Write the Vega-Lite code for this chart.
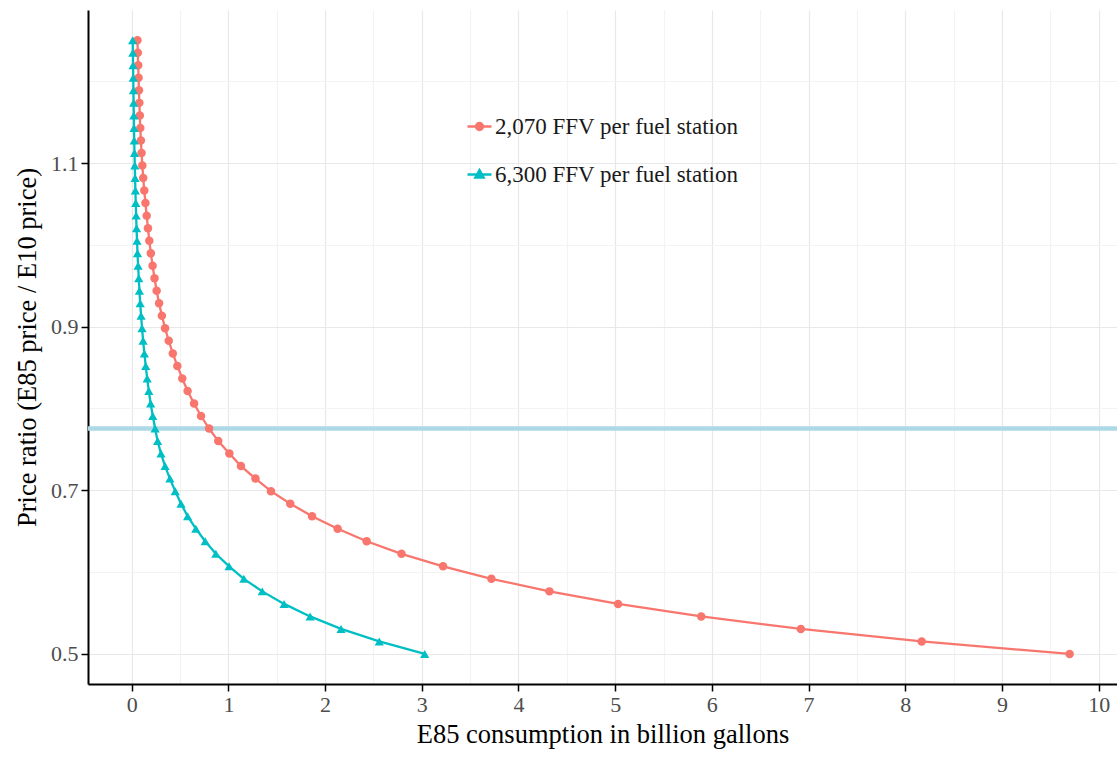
{
  "$schema": "https://vega.github.io/schema/vega-lite/v6.json",
  "width": 1029,
  "height": 674,
  "autosize": {"type": "none"},
  "padding": {"left": 88, "top": 10, "right": 0, "bottom": 73},
  "background": "white",
  "config": {"view": {"stroke": null}, "font": "Liberation Serif"},
  "datasets": {
    "ref": [{"p": 0.7755}],
    "curves": [
      {"s": "2,070 FFV per fuel station", "q": 9.70, "p": 0.5},
      {"s": "2,070 FFV per fuel station", "q": 8.17, "p": 0.5153},
      {"s": "2,070 FFV per fuel station", "q": 6.92, "p": 0.5306},
      {"s": "2,070 FFV per fuel station", "q": 5.89, "p": 0.5459},
      {"s": "2,070 FFV per fuel station", "q": 5.03, "p": 0.5612},
      {"s": "2,070 FFV per fuel station", "q": 4.32, "p": 0.5765},
      {"s": "2,070 FFV per fuel station", "q": 3.72, "p": 0.5918},
      {"s": "2,070 FFV per fuel station", "q": 3.22, "p": 0.6071},
      {"s": "2,070 FFV per fuel station", "q": 2.79, "p": 0.6224},
      {"s": "2,070 FFV per fuel station", "q": 2.43, "p": 0.6378},
      {"s": "2,070 FFV per fuel station", "q": 2.13, "p": 0.6531},
      {"s": "2,070 FFV per fuel station", "q": 1.865, "p": 0.6684},
      {"s": "2,070 FFV per fuel station", "q": 1.64, "p": 0.6837},
      {"s": "2,070 FFV per fuel station", "q": 1.44, "p": 0.6990},
      {"s": "2,070 FFV per fuel station", "q": 1.28, "p": 0.7143},
      {"s": "2,070 FFV per fuel station", "q": 1.13, "p": 0.7296},
      {"s": "2,070 FFV per fuel station", "q": 1.01, "p": 0.7449},
      {"s": "2,070 FFV per fuel station", "q": 0.895, "p": 0.7602},
      {"s": "2,070 FFV per fuel station", "q": 0.80, "p": 0.7755},
      {"s": "2,070 FFV per fuel station", "q": 0.717, "p": 0.7908},
      {"s": "2,070 FFV per fuel station", "q": 0.645, "p": 0.8061},
      {"s": "2,070 FFV per fuel station", "q": 0.578, "p": 0.8214},
      {"s": "2,070 FFV per fuel station", "q": 0.523, "p": 0.8367},
      {"s": "2,070 FFV per fuel station", "q": 0.472, "p": 0.8520},
      {"s": "2,070 FFV per fuel station", "q": 0.425, "p": 0.8673},
      {"s": "2,070 FFV per fuel station", "q": 0.383, "p": 0.8827},
      {"s": "2,070 FFV per fuel station", "q": 0.345, "p": 0.8980},
      {"s": "2,070 FFV per fuel station", "q": 0.312, "p": 0.9133},
      {"s": "2,070 FFV per fuel station", "q": 0.283, "p": 0.9286},
      {"s": "2,070 FFV per fuel station", "q": 0.258, "p": 0.9439},
      {"s": "2,070 FFV per fuel station", "q": 0.236, "p": 0.9592},
      {"s": "2,070 FFV per fuel station", "q": 0.216, "p": 0.9745},
      {"s": "2,070 FFV per fuel station", "q": 0.198, "p": 0.9898},
      {"s": "2,070 FFV per fuel station", "q": 0.182, "p": 1.0051},
      {"s": "2,070 FFV per fuel station", "q": 0.168, "p": 1.0204},
      {"s": "2,070 FFV per fuel station", "q": 0.155, "p": 1.0357},
      {"s": "2,070 FFV per fuel station", "q": 0.142, "p": 1.0510},
      {"s": "2,070 FFV per fuel station", "q": 0.130, "p": 1.0663},
      {"s": "2,070 FFV per fuel station", "q": 0.119, "p": 1.0816},
      {"s": "2,070 FFV per fuel station", "q": 0.110, "p": 1.0969},
      {"s": "2,070 FFV per fuel station", "q": 0.102, "p": 1.1122},
      {"s": "2,070 FFV per fuel station", "q": 0.095, "p": 1.1276},
      {"s": "2,070 FFV per fuel station", "q": 0.089, "p": 1.1429},
      {"s": "2,070 FFV per fuel station", "q": 0.084, "p": 1.1582},
      {"s": "2,070 FFV per fuel station", "q": 0.079, "p": 1.1735},
      {"s": "2,070 FFV per fuel station", "q": 0.075, "p": 1.1888},
      {"s": "2,070 FFV per fuel station", "q": 0.071, "p": 1.2041},
      {"s": "2,070 FFV per fuel station", "q": 0.067, "p": 1.2194},
      {"s": "2,070 FFV per fuel station", "q": 0.063, "p": 1.2347},
      {"s": "2,070 FFV per fuel station", "q": 0.059, "p": 1.25},
      {"s": "6,300 FFV per fuel station", "q": 3.03, "p": 0.5},
      {"s": "6,300 FFV per fuel station", "q": 2.56, "p": 0.5153},
      {"s": "6,300 FFV per fuel station", "q": 2.165, "p": 0.5306},
      {"s": "6,300 FFV per fuel station", "q": 1.845, "p": 0.5459},
      {"s": "6,300 FFV per fuel station", "q": 1.576, "p": 0.5612},
      {"s": "6,300 FFV per fuel station", "q": 1.35, "p": 0.5765},
      {"s": "6,300 FFV per fuel station", "q": 1.16, "p": 0.5918},
      {"s": "6,300 FFV per fuel station", "q": 1.007, "p": 0.6071},
      {"s": "6,300 FFV per fuel station", "q": 0.87, "p": 0.6224},
      {"s": "6,300 FFV per fuel station", "q": 0.76, "p": 0.6378},
      {"s": "6,300 FFV per fuel station", "q": 0.663, "p": 0.6531},
      {"s": "6,300 FFV per fuel station", "q": 0.578, "p": 0.6684},
      {"s": "6,300 FFV per fuel station", "q": 0.51, "p": 0.6837},
      {"s": "6,300 FFV per fuel station", "q": 0.45, "p": 0.6990},
      {"s": "6,300 FFV per fuel station", "q": 0.395, "p": 0.7143},
      {"s": "6,300 FFV per fuel station", "q": 0.345, "p": 0.7296},
      {"s": "6,300 FFV per fuel station", "q": 0.303, "p": 0.7449},
      {"s": "6,300 FFV per fuel station", "q": 0.268, "p": 0.7602},
      {"s": "6,300 FFV per fuel station", "q": 0.242, "p": 0.7755},
      {"s": "6,300 FFV per fuel station", "q": 0.218, "p": 0.7908},
      {"s": "6,300 FFV per fuel station", "q": 0.196, "p": 0.8061},
      {"s": "6,300 FFV per fuel station", "q": 0.177, "p": 0.8214},
      {"s": "6,300 FFV per fuel station", "q": 0.160, "p": 0.8367},
      {"s": "6,300 FFV per fuel station", "q": 0.145, "p": 0.8520},
      {"s": "6,300 FFV per fuel station", "q": 0.131, "p": 0.8673},
      {"s": "6,300 FFV per fuel station", "q": 0.118, "p": 0.8827},
      {"s": "6,300 FFV per fuel station", "q": 0.107, "p": 0.8980},
      {"s": "6,300 FFV per fuel station", "q": 0.097, "p": 0.9133},
      {"s": "6,300 FFV per fuel station", "q": 0.088, "p": 0.9286},
      {"s": "6,300 FFV per fuel station", "q": 0.080, "p": 0.9439},
      {"s": "6,300 FFV per fuel station", "q": 0.073, "p": 0.9592},
      {"s": "6,300 FFV per fuel station", "q": 0.066, "p": 0.9745},
      {"s": "6,300 FFV per fuel station", "q": 0.060, "p": 0.9898},
      {"s": "6,300 FFV per fuel station", "q": 0.055, "p": 1.0051},
      {"s": "6,300 FFV per fuel station", "q": 0.050, "p": 1.0204},
      {"s": "6,300 FFV per fuel station", "q": 0.046, "p": 1.0357},
      {"s": "6,300 FFV per fuel station", "q": 0.042, "p": 1.0510},
      {"s": "6,300 FFV per fuel station", "q": 0.038, "p": 1.0663},
      {"s": "6,300 FFV per fuel station", "q": 0.035, "p": 1.0816},
      {"s": "6,300 FFV per fuel station", "q": 0.032, "p": 1.0969},
      {"s": "6,300 FFV per fuel station", "q": 0.029, "p": 1.1122},
      {"s": "6,300 FFV per fuel station", "q": 0.026, "p": 1.1276},
      {"s": "6,300 FFV per fuel station", "q": 0.024, "p": 1.1429},
      {"s": "6,300 FFV per fuel station", "q": 0.022, "p": 1.1582},
      {"s": "6,300 FFV per fuel station", "q": 0.020, "p": 1.1735},
      {"s": "6,300 FFV per fuel station", "q": 0.018, "p": 1.1888},
      {"s": "6,300 FFV per fuel station", "q": 0.016, "p": 1.2041},
      {"s": "6,300 FFV per fuel station", "q": 0.014, "p": 1.2194},
      {"s": "6,300 FFV per fuel station", "q": 0.012, "p": 1.2347},
      {"s": "6,300 FFV per fuel station", "q": 0.010, "p": 1.25}
    ]
  },
  "encoding": {
    "y": {
      "field": "p",
      "type": "quantitative",
      "scale": {"domain": [0.4633, 1.287], "nice": false, "zero": false},
      "axis": {
        "title": "Price ratio (E85 price / E10 price)",
        "titleFont": "Liberation Serif",
        "titleFontSize": 26.5,
        "titleFontWeight": "normal",
        "titleColor": "#000000",
        "titlePadding": 9,
        "values": [0.5, 0.6, 0.7, 0.8, 0.9, 1.0, 1.1, 1.2],
        "labelExpr": "abs((datum.value * 10) % 2 - 1) < 0.01 ? format(datum.value, '.1f') : ''",
        "labelFont": "Liberation Serif",
        "labelFontSize": 22,
        "labelColor": "#4d4d4d",
        "labelPadding": 3,
        "domainColor": "#000000",
        "domainWidth": 2,
        "tickColor": "#000000",
        "tickWidth": 1.5,
        "tickSize": 7,
        "tickOpacity": {"condition": {"test": "abs((datum.value * 10) % 2 - 1) < 0.01", "value": 1}, "value": 0},
        "grid": true,
        "gridColor": {"condition": {"test": "abs((datum.value * 10) % 2 - 1) < 0.01", "value": "#e8e8e8"}, "value": "#f3f3f3"},
        "gridWidth": 1.2
      }
    }
  },
  "layer": [
    {
      "data": {"name": "ref"},
      "mark": {"type": "rule", "color": "#add8e6", "strokeWidth": 4.5}
    },
    {
      "data": {"name": "curves"},
      "mark": {"type": "line", "strokeWidth": 2.3},
      "encoding": {
        "x": {
          "field": "q",
          "type": "quantitative",
          "scale": {"domain": [-0.452, 10.19], "nice": false, "zero": false},
          "axis": {
            "title": "E85 consumption in billion gallons",
            "titleFont": "Liberation Serif",
            "titleFontSize": 26.5,
            "titleFontWeight": "normal",
            "titleColor": "#000000",
            "titlePadding": 6,
            "values": [0, 0.5, 1, 1.5, 2, 2.5, 3, 3.5, 4, 4.5, 5, 5.5, 6, 6.5, 7, 7.5, 8, 8.5, 9, 9.5, 10],
            "labelExpr": "datum.value % 1 === 0 ? format(datum.value, 'd') : ''",
            "labelFont": "Liberation Serif",
            "labelFontSize": 22,
            "labelColor": "#4d4d4d",
            "labelPadding": 3,
            "domainColor": "#000000",
            "domainWidth": 2,
            "tickColor": "#000000",
            "tickWidth": 1.5,
            "tickSize": 7,
            "tickOpacity": {"condition": {"test": "datum.value % 1 === 0", "value": 1}, "value": 0},
            "grid": true,
            "gridColor": {"condition": {"test": "datum.value % 1 === 0", "value": "#e8e8e8"}, "value": "#f3f3f3"},
            "gridWidth": 1.2
          }
        },
        "color": {
          "field": "s",
          "type": "nominal",
          "scale": {"domain": ["2,070 FFV per fuel station", "6,300 FFV per fuel station"], "range": ["#F8766D", "#00BFC4"]},
          "legend": {
            "title": null,
            "orient": "none",
            "legendX": 380,
            "legendY": 105,
            "padding": 0,
            "rowPadding": 24,
            "labelFont": "Liberation Serif",
            "labelFontSize": 23,
            "labelLimit": 500,
            "labelColor": "#1a1a1a",
            "labelOffset": 4,
            "symbolSize": 400,
            "symbolOpacity": 1,
            "symbolStrokeWidth": 2.3,
            "symbolType": {"expr": "datum.value === '6,300 FFV per fuel station' ? 'M-1.2,0H1.2M0,-0.45L0.42,0.3L-0.42,0.3Z' : 'M-1.2,0H1.2M-0.35,0A0.35,0.35 0 1,1 0.35,0A0.35,0.35 0 1,1 -0.35,0Z'"},
            "encode": {
              "symbols": {
                "update": {
                  "shape": {"signal": "datum.value === '6,300 FFV per fuel station' ? 'M-1.2,0H1.2M0,-0.45L0.42,0.3L-0.42,0.3Z' : 'M-1.2,0H1.2M-0.35,0A0.35,0.35 0 1,1 0.35,0A0.35,0.35 0 1,1 -0.35,0Z'"},
                  "fill": {"signal": "datum.value === '6,300 FFV per fuel station' ? '#00BFC4' : '#F8766D'"},
                  "stroke": {"signal": "datum.value === '6,300 FFV per fuel station' ? '#00BFC4' : '#F8766D'"},
                  "strokeWidth": {"value": 2.3},
                  "opacity": {"value": 1}
                }
              }
            }
          }
        }
      }
    },
    {
      "data": {"name": "curves"},
      "transform": [{"filter": "datum.s === '2,070 FFV per fuel station'"}],
      "mark": {"type": "point", "shape": "circle", "filled": true, "opacity": 1, "size": 72},
      "encoding": {
        "x": {"field": "q", "type": "quantitative"},
        "color": {"field": "s", "type": "nominal"}
      }
    },
    {
      "data": {"name": "curves"},
      "transform": [{"filter": "datum.s === '6,300 FFV per fuel station'"}],
      "mark": {"type": "point", "shape": "triangle-up", "filled": true, "opacity": 1, "size": 85},
      "encoding": {
        "x": {"field": "q", "type": "quantitative"},
        "color": {"field": "s", "type": "nominal"}
      }
    }
  ]
}
